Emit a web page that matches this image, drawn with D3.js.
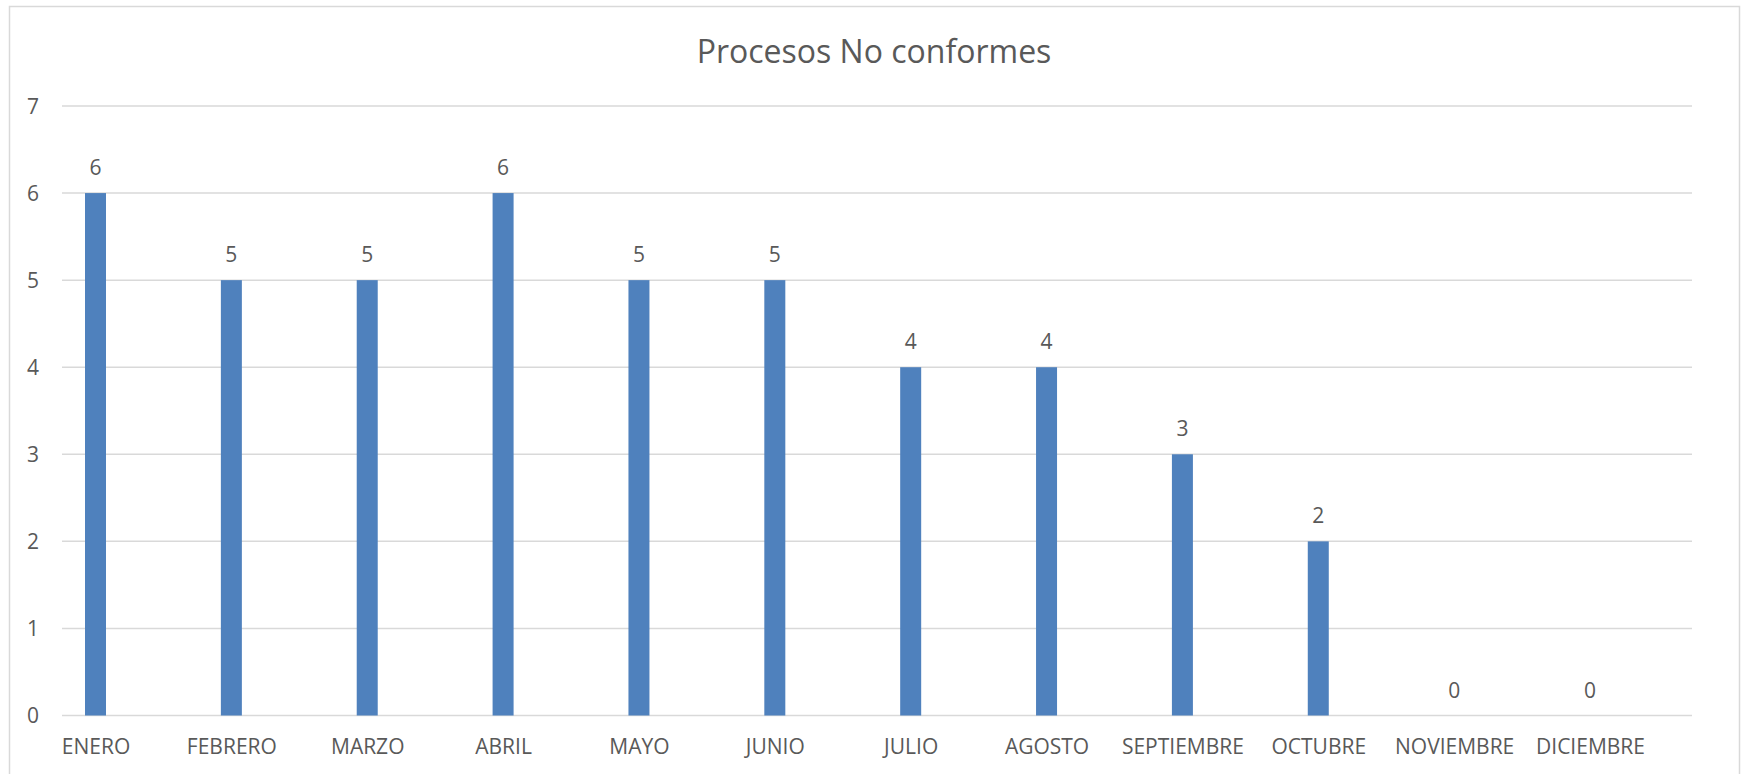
<!DOCTYPE html>
<html>
<head>
<meta charset="utf-8">
<script src="https://cdn.jsdelivr.net/npm/d3@7"></script>
<style>
  html, body { margin: 0; padding: 0; background: #fff; }
  svg { display: block; }
  text { font-family: "Open Sans", "Noto Sans", sans-serif; fill: #595959; }
</style>
</head>
<body>
<svg id="chart" width="1745" height="774"></svg>
<script>
// Monthly count of non-conforming processes
const months = ["ENERO", "FEBRERO", "MARZO", "ABRIL", "MAYO", "JUNIO", "JULIO",
                "AGOSTO", "SEPTIEMBRE", "OCTUBRE", "NOVIEMBRE", "DICIEMBRE"];
const values = [6, 5, 5, 6, 5, 5, 4, 4, 3, 2, 0, 0];
const yTicks = [0, 1, 2, 3, 4, 5, 6, 7];
const title = "Procesos No conformes";

const svg = d3.select("#chart");

// chart frame
svg.append("rect")
  .attr("x", 9.5).attr("y", 6.5)
  .attr("width", 1730).attr("height", 800)
  .attr("fill", "#fff").attr("stroke", "#d9d9d9").attr("stroke-width", 1.5);

const plot = { left: 62, right: 1692, top: 106, bottom: 715.5 };

const y = d3.scaleLinear().domain([0, 7]).range([plot.bottom, plot.top]);
const x = d3.scalePoint().domain(months).range([95.5, 1590]);
const barW = 21;

// horizontal gridlines
svg.append("g").selectAll("line")
  .data(yTicks)
  .join("line")
  .attr("x1", plot.left).attr("x2", plot.right)
  .attr("y1", d => y(d)).attr("y2", d => y(d))
  .attr("stroke", "#d9d9d9").attr("stroke-width", 1.5);

// y-axis labels
const yAxis = d3.axisLeft(y).tickValues(yTicks).tickFormat(d3.format("d"))
  .tickSize(0).tickPadding(0);
const gy = svg.append("g").attr("transform", "translate(39,0)").call(yAxis);
gy.select(".domain").remove();
gy.selectAll("text")
  .attr("font-size", 21).attr("dy", "0.35em")
  .style("font-family", "'Open Sans', sans-serif").attr("fill", "#595959");

// bars
svg.append("g").selectAll("rect")
  .data(values)
  .join("rect")
  .attr("x", (d, i) => x(months[i]) - barW / 2)
  .attr("width", barW)
  .attr("y", d => y(d))
  .attr("height", d => y(0) - y(d))
  .attr("fill", "#4f81bd");

// value labels
svg.append("g").selectAll("text")
  .data(values)
  .join("text")
  .attr("x", (d, i) => x(months[i]))
  .attr("y", d => y(d) - 18)
  .attr("text-anchor", "middle")
  .attr("font-size", 21)
  .text(d => d);

// category labels
const xAxis = d3.axisBottom(x).tickSize(0).tickPadding(0);
const gx = svg.append("g").attr("transform", "translate(0,754)").call(xAxis);
gx.select(".domain").remove();
gx.selectAll("text")
  .attr("dy", 0).attr("y", 0)
  .attr("font-size", 21)
  .style("font-family", "'Open Sans', sans-serif").attr("fill", "#595959");

// title
svg.append("text")
  .attr("x", 874).attr("y", 62.5)
  .attr("text-anchor", "middle")
  .attr("font-size", 32)
  .text(title);
</script>
</body>
</html>
